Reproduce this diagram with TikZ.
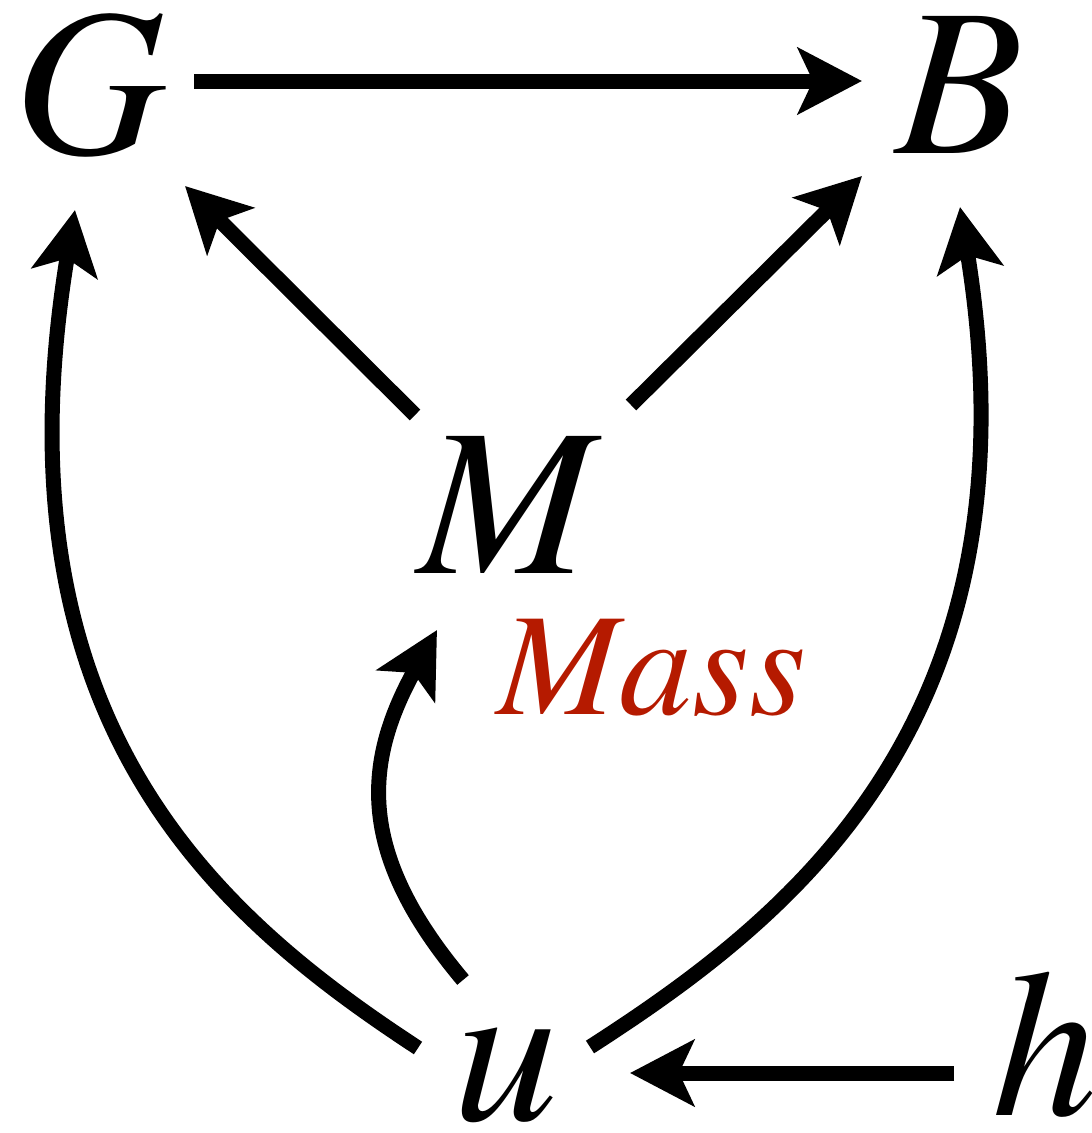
\documentclass[tikz,border=0pt]{standalone}
\usepackage{fontspec}
\setmainfont{texgyretermes}[Extension=.otf, UprightFont=*-regular, ItalicFont=*-italic, BoldFont=*-bold, BoldItalicFont=*-bolditalic]
\usetikzlibrary{arrows.meta}
\definecolor{massred}{HTML}{B51A00}
\begin{document}
\begin{tikzpicture}[x=1pt,y=-1pt,
  var/.style={inner sep=0pt,font=\fontsize{210}{215}\selectfont\itshape},
  arr/.style={line width=15pt,-{Stealth[length=64pt,width=66pt,inset=15pt]}},
  masslabel/.style={inner sep=0pt,text=massred,font=\fontsize{146}{150}\selectfont\itshape}]
\useasboundingbox (0,0) rectangle (1092,1133);
\node[var] (G) at (90,85) {G};
\node[var] (B) at (960,85) {B};
\node[var] (M) at (506,505) {M};
\node[var] (u) at (506,1075) {u};
\node[var] (h) at (1045,1045) {h};
\node[masslabel] (mass) at (652,668) {Mass};
\draw[arr] ([shift={(104,-4)}]G.center) -- ([shift={(-98,-4)}]B.center);
\draw[arr] ([shift={(-91,-90)}]M.center) -- ([shift={(95,101)}]G.center);
\draw[arr] ([shift={(125,-100)}]M.center) -- ([shift={(-98,91)}]B.center);
\draw[arr] ([shift={(-88,-27)}]u.center) .. controls +(-200,-131) and +(-85,513) .. ([shift={(-15,125)}]G.center);
\draw[arr] ([shift={(84,-28)}]u.center) .. controls +(202,-130) and +(83,513) .. ([shift={(0,122)}]B.center);
\draw[arr] ([shift={(-43,-95)}]u.center) .. controls +(-105,-125) and +(-75,135) .. ([shift={(-69,125)}]M.center);
\draw[arr] ([shift={(-91,28)}]h.center) -- ([shift={(124,-2)}]u.center);
\end{tikzpicture}
\end{document}
